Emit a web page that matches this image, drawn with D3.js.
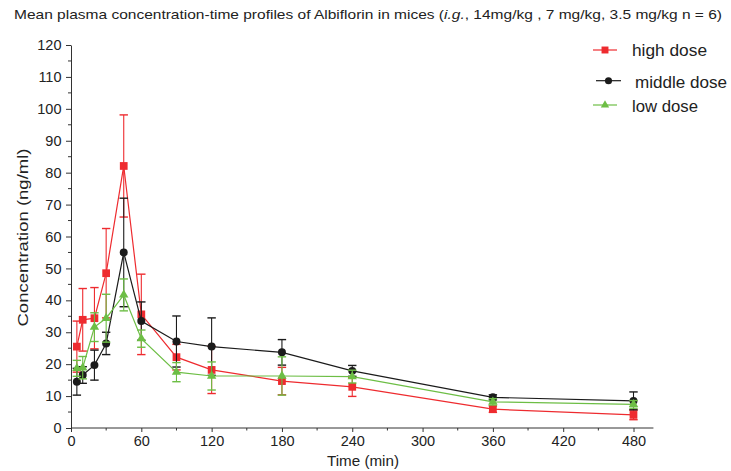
<!DOCTYPE html>
<html><head><meta charset="utf-8">
<script src="https://cdn.jsdelivr.net/npm/d3@7"></script>
<style>body{margin:0;background:#fff}svg{display:block;font-family:"Liberation Sans",Arial,sans-serif}</style>
</head><body>
<svg id="c" width="731" height="471"></svg>
<script>
const times   = [5, 10, 20, 30, 45, 60, 90, 120, 180, 240, 360, 480];
const highMean = [25.5, 33.9, 34.4, 48.5, 82.1, 35.6, 22.2, 18.2, 14.7, 12.9, 5.9, 4.1];
const highSD   = [8.0, 9.8, 9.6, 14.0, 16.0, 12.6, 4.0, 7.4, 4.3, 3.0, 1.0, 1.5];
const midMean  = [14.5, 16.6, 19.7, 26.5, 55.0, 33.5, 27.1, 25.5, 23.7, 17.9, 9.6, 8.5];
const midSD    = [4.2, 2.6, 4.7, 3.5, 17.0, 6.0, 8.0, 9.0, 4.0, 1.7, 0.8, 2.8];
const lowMean  = [18.7, 18.9, 31.6, 34.4, 41.7, 28.0, 17.5, 16.3, 16.3, 16.1, 8.2, 7.4];
const lowSD    = [2.5, 3.5, 4.5, 7.5, 5.0, 2.7, 3.0, 4.4, 6.0, 2.0, 1.0, 1.2];
const xTicks = [0, 60, 120, 180, 240, 300, 360, 420, 480];
const yTicks = [0, 10, 20, 30, 40, 50, 60, 70, 80, 90, 100, 110, 120];
const seriesNames = ["high dose", "middle dose", "low dose"];

const svg = d3.select("#c");
const x = d3.scaleLinear().domain([0, 480]).range([71, 633.5]);
const y = d3.scaleLinear().domain([0, 120]).range([428, 45]);
const axisColor = "#333";

// title
const t = svg.append("text").attr("x", 14).attr("y", 18.5).attr("font-size", 13.5).attr("fill", "#222")
  .attr("textLength", 708).attr("lengthAdjust", "spacingAndGlyphs");
t.append("tspan").text("Mean plasma concentration-time profiles of Albiflorin in mices (");
t.append("tspan").attr("font-style", "italic").text("i.g.");
t.append("tspan").text(", 14mg/kg , 7 mg/kg, 3.5 mg/kg n = 6)");

// axes
const xAxis = d3.axisBottom(x).tickValues(xTicks).tickSize(4).tickSizeOuter(0);
const gx = svg.append("g").attr("transform", "translate(0,428)").call(xAxis);
gx.select(".domain").attr("d", `M${x(0)},0H${x(497)}`);
gx.selectAll(".tick text").attr("font-size", 14.5).attr("y", 18).attr("dy", null).attr("fill", "#222");
const xMinor = d3.range(30, 497, 60);
gx.selectAll(".minor").data(xMinor).enter().append("line")
  .attr("x1", d => x(d)).attr("x2", d => x(d)).attr("y1", 0).attr("y2", 2.5).attr("stroke", axisColor);

const yAxis = d3.axisLeft(y).tickValues(yTicks).tickSize(5).tickSizeOuter(0);
const gy = svg.append("g").attr("transform", "translate(71,0)").call(yAxis);
gy.selectAll(".tick text").attr("font-size", 14.5).attr("fill", "#222").attr("x", -9.5);
const yMinor = d3.range(5, 120, 10);
gy.selectAll(".minor").data(yMinor).enter().append("line")
  .attr("x1", -3).attr("x2", 0).attr("y1", d => y(d)).attr("y2", d => y(d)).attr("stroke", axisColor);
svg.selectAll(".domain, .tick line").attr("stroke", axisColor);

svg.append("text").attr("x", 363).attr("y", 466).attr("text-anchor", "middle")
  .attr("font-size", 15).attr("fill", "#222")
  .attr("textLength", 72).attr("lengthAdjust", "spacingAndGlyphs").text("Time (min)");
svg.append("text").attr("transform", `translate(27.5,237.5) rotate(-90)`).attr("text-anchor", "middle")
  .attr("font-size", 15.5).attr("fill", "#222")
  .attr("textLength", 178).attr("lengthAdjust", "spacingAndGlyphs").text("Concentration (ng/ml)");

const series = [
  {name: seriesNames[0], mean: highMean, sd: highSD, color: "#ee2b2f", shape: d3.symbolSquare, size: 60},
  {name: seriesNames[1], mean: midMean, sd: midSD, color: "#1b1b1b", shape: d3.symbolCircle, size: 50},
  {name: seriesNames[2], mean: lowMean, sd: lowSD, color: "#6dbe45", shape: d3.symbolTriangle, size: 38}
];
const line = d3.line().x(d => x(d[0])).y(d => y(d[1]));
series.forEach(s => {
  const g = svg.append("g");
  const pts = times.map((tm, i) => [tm, s.mean[i], s.sd[i]]);
  pts.forEach(p => {
    const x0 = x(p[0]), yt = y(p[1] + p[2]), yb = y(Math.max(0, p[1] - p[2]));
    g.append("line").attr("x1", x0).attr("x2", x0).attr("y1", yt).attr("y2", yb).attr("stroke", s.color).attr("stroke-width", 1.1);
    [yt, yb].forEach(yy => g.append("line").attr("x1", x0 - 4.2).attr("x2", x0 + 4.2).attr("y1", yy).attr("y2", yy)
      .attr("stroke", s.color).attr("stroke-width", 1.4));
  });
  g.append("path").attr("d", line(pts)).attr("fill", "none").attr("stroke", s.color).attr("stroke-width", 1.2);
  g.selectAll("path.m").data(pts).enter().append("path")
    .attr("transform", d => `translate(${x(d[0])},${y(d[1])})`)
    .attr("d", d3.symbol().type(s.shape).size(s.size)).attr("fill", s.color);
});

// legend
const legY = [50, 80.7, 105];
const legBase = [55.7, 88.3, 111.7];
const legX = [[593, 617, 632, 75], [596, 621, 635, 92], [593, 617, 632, 66]];
series.forEach((s, i) => {
  const g = svg.append("g");
  const [a, b, tx, w] = legX[i];
  g.append("line").attr("x1", a).attr("x2", b).attr("y1", legY[i]).attr("y2", legY[i]).attr("stroke", s.color).attr("stroke-width", 1.2);
  g.append("path").attr("transform", `translate(${(a + b) / 2},${legY[i]})`)
    .attr("d", d3.symbol().type(s.shape).size(s.size * 0.8)).attr("fill", s.color);
  g.append("text").attr("x", tx).attr("y", legBase[i]).attr("font-size", 16).attr("fill", "#222")
    .attr("textLength", w).attr("lengthAdjust", "spacingAndGlyphs").text(s.name);
});
</script>
</body></html>
